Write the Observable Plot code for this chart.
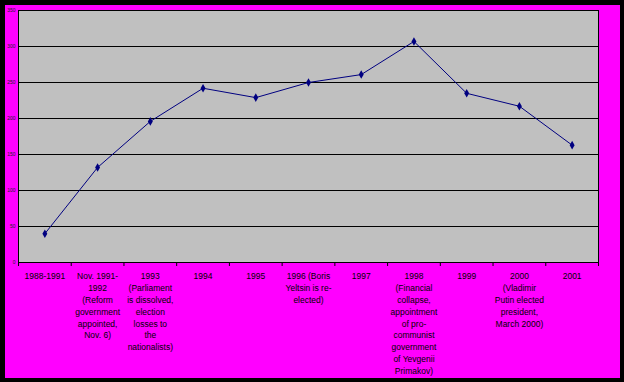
<!DOCTYPE html>
<html>
<head>
<meta charset="utf-8">
<script src="https://cdn.jsdelivr.net/npm/d3@7"></script>
<script src="https://cdn.jsdelivr.net/npm/@observablehq/plot@0.6"></script>
<style>
  html, body { margin: 0; padding: 0; background: #000; }
  #wrap { position: absolute; left: 5px; top: 5px; width: 615px; height: 373px; background: #ff00ff; }
  #wrap svg { display: block; background: transparent; }
</style>
</head>
<body>
<div id="wrap"></div>
<script>
const categories = [
  "1988-1991",
  "Nov. 1991-\n1992\n(Reform\ngovernment\nappointed,\nNov. 6)",
  "1993\n(Parliament\nis dissolved,\nelection\nlosses to\nthe\nnationalists)",
  "1994",
  "1995",
  "1996 (Boris\nYeltsin is re-\nelected)",
  "1997",
  "1998\n(Financial\ncollapse,\nappointment\nof pro-\ncommunist\ngovernment\nof Yevgenii\nPrimakov)",
  "1999",
  "2000\n(Vladimir\nPutin elected\npresident,\nMarch 2000)",
  "2001"
];
const values = [40, 132, 196, 242, 229, 250, 261, 307, 235, 217, 163];
const yTicks = [0, 50, 100, 150, 200, 250, 300, 350];

const data = categories.map((c, i) => ({i: i + 0.5, label: c, value: values[i]}));
const boundaries = d3.range(categories.length + 1);
const centers = data.map(d => d.i);

const chart = Plot.plot({
  width: 615,
  height: 373,
  marginLeft: 13,
  marginRight: 22,
  marginTop: 5,
  marginBottom: 116,
  style: {fontFamily: "Arial, 'Liberation Sans', sans-serif", background: "transparent", color: "black"},
  x: {type: "linear", domain: [0, categories.length], label: null},
  y: {domain: [0, 350], label: null},
  marks: [
    Plot.frame({fill: "#c0c0c0", stroke: "none"}),
    Plot.gridY(yTicks, {stroke: "black", strokeOpacity: 1, strokeWidth: 1}),
    Plot.axisY(yTicks, {tickSize: 0, tickPadding: 3, fontSize: 5, fill: "#222", label: null}),
    Plot.axisX(boundaries, {tickSize: 4, tickFormat: () => "", stroke: "black", strokeWidth: 1, label: null}),
    Plot.axisX(centers, {tickSize: 0, tickPadding: 8, fontSize: 8.5, lineHeight: 1.4,
      tickFormat: d => categories[Math.round(d - 0.5)], fill: "black", label: null}),
    Plot.line(data, {x: "i", y: "value", stroke: "#000080", strokeWidth: 1}),
    Plot.dot(data, {x: "i", y: "value", symbol: "diamond", r: 2.6, fill: "#000080", stroke: "none"}),
    Plot.frame({stroke: "black", strokeWidth: 1})
  ]
});
document.getElementById("wrap").appendChild(chart);
</script>
</body>
</html>
